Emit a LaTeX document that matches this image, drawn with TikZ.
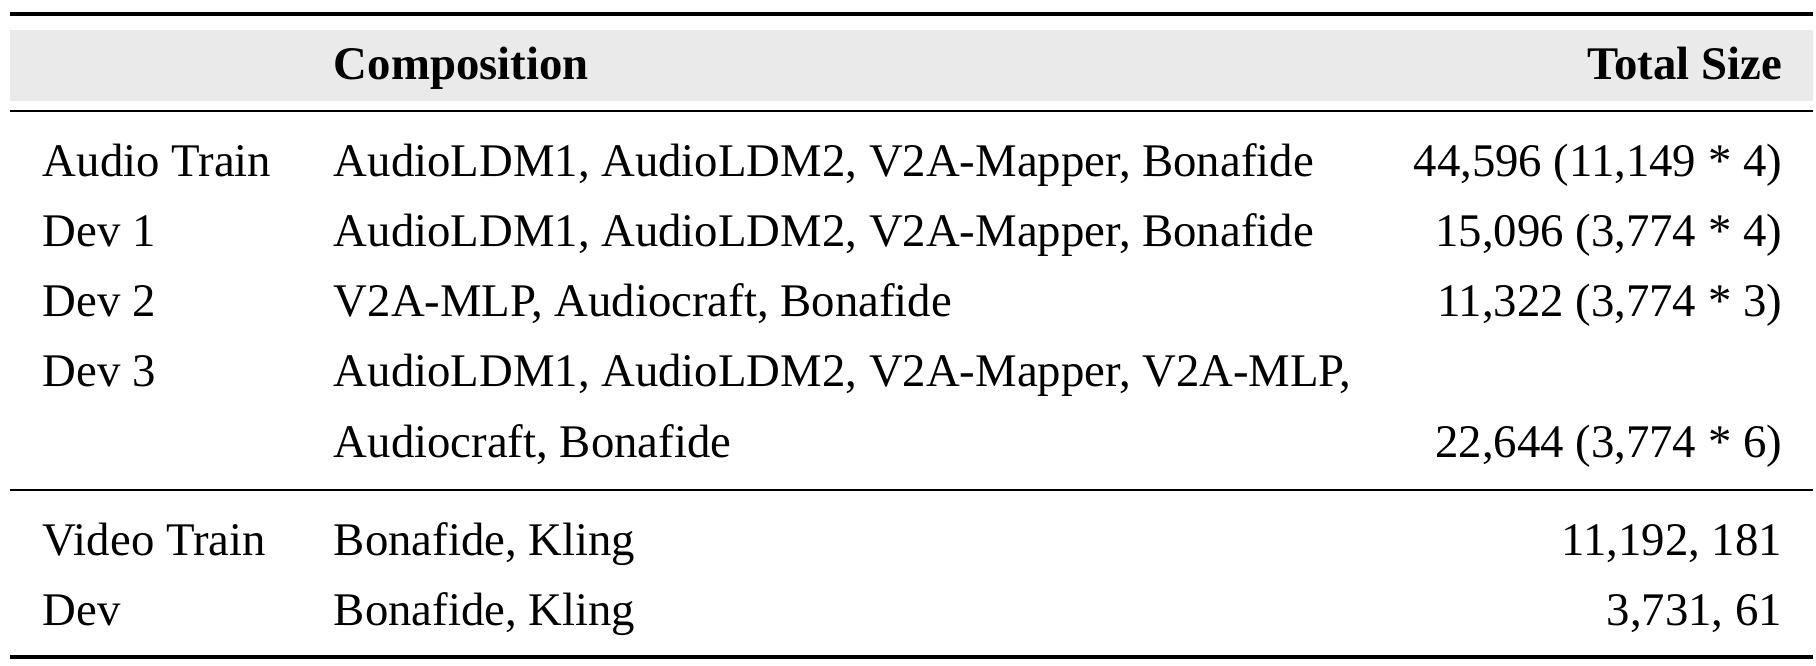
\documentclass[tikz,border=0pt]{standalone}
\usepackage{fontspec}
\setmainfont{Liberation Serif}
\usepackage{xcolor}
\definecolor{hellgrau}{RGB}{234,234,234}
\tikzset{
  zelle/.style={anchor=base west, inner sep=0pt},
  zahl/.style={anchor=base east, inner sep=0pt},
  kopf/.style={font=\fontsize{10.1pt}{12pt}\selectfont\bfseries},
  dickelinie/.style={line width=0.8pt},
  duennelinie/.style={line width=0.5pt}
}
\begin{document}
\begin{tikzpicture}[x=0.216pt, y=-0.216pt, every node/.style={font=\fontsize{10.1pt}{12pt}\selectfont}]
        \useasboundingbox (0,0) rectangle (1816,666);

        % Kopfzeile
        \fill[hellgrau] (10,30) rectangle (1813,101);  % grauer Hintergrund
        \draw[dickelinie] (10,14) -- (1813,14);
        \draw[duennelinie] (10,111) -- (1813,111);
        \node[zelle, kopf] (kopfcomp) at (333,80) {Composition};
        \node[zahl, kopf] (kopfsize) at (1783,80) {Total Size};

        % Audio
        \node[zelle] (atrain) at (42,177) {Audio Train};
        \node[zelle] (atraincomp) at (333,177) {AudioLDM1, AudioLDM2, V2A-Mapper, Bonafide};
        \node[zahl] (atrainsize) at (1783,177) {44,596 (11,149 * 4)};

        \node[zelle] (deva) at (42,247) {Dev 1};
        \node[zelle] (devacomp) at (333,247) {AudioLDM1, AudioLDM2, V2A-Mapper, Bonafide};
        \node[zahl] (devasize) at (1783,247) {15,096 (3,774 * 4)};

        \node[zelle] (devb) at (42,317) {Dev 2};
        \node[zelle] (devbcomp) at (333,317) {V2A-MLP, Audiocraft, Bonafide};
        \node[zahl] (devbsize) at (1783,317) {11,322 (3,774 * 3)};

        \node[zelle] (devc) at (42,387) {Dev 3};
        \node[zelle] (devccomp) at (333,387) {AudioLDM1, AudioLDM2, V2A-Mapper, V2A-MLP,};
        \node[zelle] (devccompb) at (333,458) {Audiocraft, Bonafide};
        \node[zahl] (devcsize) at (1783,458) {22,644 (3,774 * 6)};

        \draw[duennelinie] (10,490) -- (1813,490);  % Trennlinie

        % Video
        \node[zelle] (vtrain) at (42,556) {Video Train};
        \node[zelle] (vtraincomp) at (333,556) {Bonafide, Kling};
        \node[zahl] (vtrainsize) at (1783,556) {11,192, 181};

        \node[zelle] (vdev) at (42,626) {Dev};
        \node[zelle] (vdevcomp) at (333,626) {Bonafide, Kling};
        \node[zahl] (vdevsize) at (1783,626) {3,731, 61};

        \draw[dickelinie] (10,657) -- (1813,657);
\end{tikzpicture}
\end{document}
